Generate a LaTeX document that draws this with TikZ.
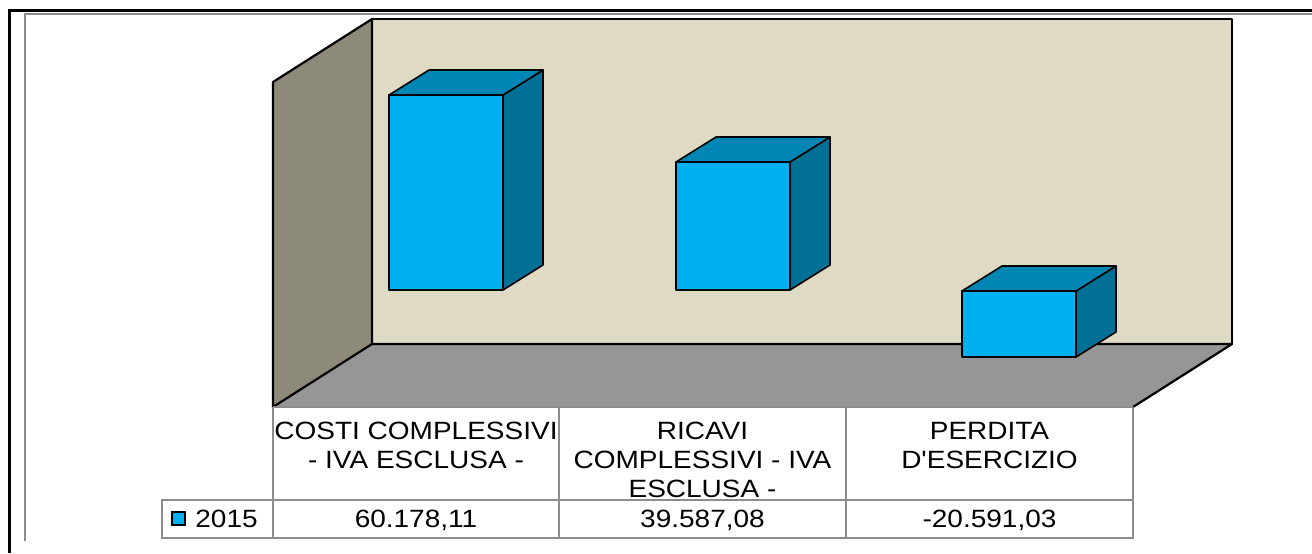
\documentclass[tikz,border=0pt]{standalone}
\usepackage{fontspec}
\setmainfont{Liberation Sans}[FakeStretch=1.12, Ligatures=TeXOff]
\definecolor{backwall}{RGB}{223,218,195}
\definecolor{sidewall}{RGB}{142,138,122}
\definecolor{floorgray}{RGB}{150,150,150}
\definecolor{barfront}{RGB}{0,176,240}
\definecolor{bartop}{RGB}{0,134,180}
\definecolor{barside}{RGB}{0,112,150}
\definecolor{gridgray}{RGB}{140,140,140}
\begin{document}
\begin{tikzpicture}[x=0.5pt, y=-0.5pt,
              wall/.style={draw=black, line width=1.1pt, line join=round},
              barface/.style={draw=black, line width=0.8pt, line join=round},
              gridline/.style={draw=gridgray, line width=0.9pt},
              every node/.style={inner sep=0pt, align=center, font=\fontsize{12.5}{14.5}\selectfont}]
              \useasboundingbox (0,0) rectangle (1312,553);
              \draw[line width=1.5pt] (9,553) -- (9,10.5) -- (1312,10.5);
              \draw[gridgray, line width=0.8pt] (25,541) -- (25,14) -- (1312,14);
              \filldraw[wall, fill=backwall] (372,19) rectangle (1232,344);
              \fill[floorgray] (273,407) -- (372,344) -- (1232,344) -- (1133,407) -- cycle;
              \draw[wall] (372,344) -- (1232,344) -- (1133,407);
              \filldraw[wall, fill=sidewall] (273,82) -- (372,19) -- (372,344) -- (273,407) -- cycle;
              \foreach \bx/\btop/\bbot in {389/95/290, 676/162/290, 962/291/357} {
                \filldraw[barface, fill=barside] (\bx+114,\btop) -- (\bx+154,\btop-25) -- (\bx+154,\bbot-25) -- (\bx+114,\bbot) -- cycle;
                \filldraw[barface, fill=bartop] (\bx,\btop) -- (\bx+40,\btop-25) -- (\bx+154,\btop-25) -- (\bx+114,\btop) -- cycle;
                \filldraw[barface, fill=barfront] (\bx,\btop) rectangle (\bx+114,\bbot);
              }
              \draw[gridline] (273,407) -- (1133,407);
              \foreach \gx in {273,559,846,1133} \draw[gridline] (\gx,407) -- (\gx,538);
              \draw[gridline] (162,500) rectangle (1133,538);
              \node[anchor=north] (costi) at (416,421.5) {COSTI COMPLESSIVI\\- IVA ESCLUSA -};
              \node[anchor=north] (ricavi) at (702.5,421.5) {RICAVI\\COMPLESSIVI - IVA\\ESCLUSA -};
              \node[anchor=north] (perdita) at (989.5,421.5) {PERDITA\\D'ESERCIZIO};
              \node[draw, fill=barfront, line width=0.75pt, minimum size=6.5pt] (legkey) at (178.5,518.5) {};
              \node[anchor=base west] (legyear) at (195,527) {2015};
              \node[anchor=base] (costival) at (416,527) {60.178,11};
              \node[anchor=base] (ricavival) at (702.5,527) {39.587,08};
              \node[anchor=base] (perditaval) at (989.5,527) {-20.591,03};
            \end{tikzpicture}
\end{document}
